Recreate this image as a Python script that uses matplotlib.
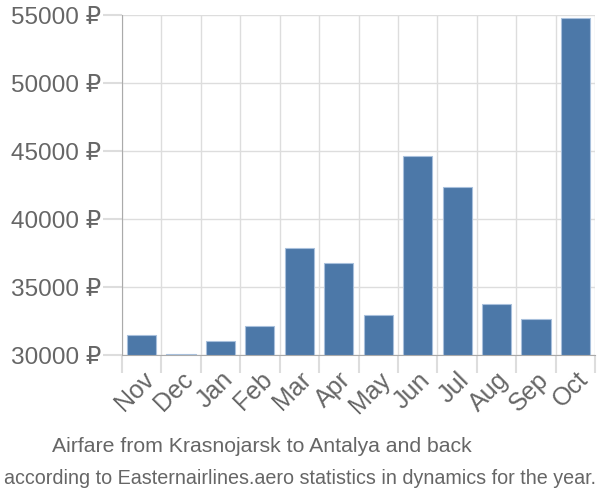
import numpy as np
import matplotlib.pyplot as plt
from matplotlib.ticker import FixedLocator

plt.rcParams['font.family'] = ['Liberation Sans', 'DejaVu Sans']

months = ["Nov", "Dec", "Jan", "Feb", "Mar", "Apr", "May", "Jun", "Jul", "Aug", "Sep", "Oct"]
prices = [31500, 30080, 31030, 32130, 37870, 36760, 32940, 44630, 42350, 33750, 32650, 54780]
yticks = [30000, 35000, 40000, 45000, 50000, 55000]

title = "Airfare from Krasnojarsk to Antalya and back"
subtitle = "according to Easternairlines.aero statistics in dynamics for the year."

grey = "#666666"
grid = "#dddddd"

fig = plt.figure(figsize=(6, 5), dpi=100)
ax = fig.add_axes([0.203, 0.29, 0.789, 0.68])

x = np.arange(len(months))
ax.bar(x, np.array(prices) - 30000, bottom=30000, width=0.74,
       color="#4c78a8", edgecolor="#a8c0dc", linewidth=0.8, zorder=3)

ax.set_xlim(-0.5, len(months) - 0.5)
ax.set_ylim(30000, 55000)

ax.set_yticks(yticks)
ax.set_yticklabels([f"{v} ₽" for v in yticks])
ax.xaxis.set_major_locator(FixedLocator(np.arange(len(months) + 1) - 0.5))
ax.xaxis.set_minor_locator(FixedLocator(x))
ax.set_xticklabels([], minor=False)
ax.set_xticklabels(months, minor=True, rotation=45, ha="right", va="top",
                   rotation_mode="anchor")

ax.tick_params(axis="x", which="major", length=13, color=grid, width=1.5)
ax.tick_params(axis="x", which="minor", length=0, pad=9, labelsize=18, labelcolor=grey)
ax.tick_params(axis="y", length=14, color=grid, width=1.5, labelsize=17.6,
               labelcolor=grey, pad=1)

ax.grid(True, which="major", color=grid, linewidth=1, zorder=0)
for s in ["top", "right"]:
    ax.spines[s].set_visible(False)
ax.spines["left"].set_color("#aaaaaa")
ax.spines["bottom"].set_color("#aaaaaa")
ax.spines["left"].set_bounds(30000, 55000)

fig.text(0.437, 0.108, title, ha="center", va="center", fontsize=15.3, color=grey)
fig.text(0.5, 0.044, subtitle, ha="center", va="center", fontsize=14.2, color=grey)

fig.savefig("out.png", dpi=100)
